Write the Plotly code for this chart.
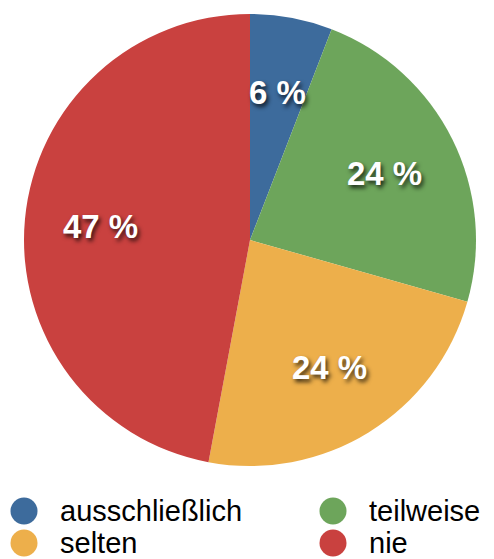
import math
import plotly.graph_objects as go

# ---- data ----
labels = ["ausschließlich", "teilweise", "selten", "nie"]
counts = [1, 4, 4, 8]
colors = ["#3D6B9C", "#6DA55B", "#EDAF4B", "#C9413F"]

# the page body has an 8px margin; work in screenshot pixels and shift
OFF = 8
W, H = 494 - OFF, 559 - OFF
# pie geometry (screenshot pixels)
CX, CY, R = 250 - OFF, 240 - OFF, 226

fig = go.Figure()
fig.add_trace(go.Pie(
    labels=labels,
    values=counts,
    sort=False,
    direction="clockwise",
    rotation=0,
    marker=dict(colors=colors, line=dict(width=0)),
    textinfo="none",
    hoverinfo="label+percent",
    showlegend=False,
    domain=dict(x=[(CX - R) / W, (CX + R) / W],
                y=[1 - (CY + R) / H, 1 - (CY - R) / H]),
))

annotations = []
total = sum(counts)
cum = 0
for lab, v in zip(labels, counts):
    mid = (cum + v / 2) / total * 2 * math.pi
    cum += v
    rr = 0.665 * R
    px = CX + rr * math.sin(mid)
    py = CY - rr * math.cos(mid)
    pct = round(v / total * 100)
    annotations.append(dict(
        x=px / W, y=1 - py / H, xref="paper", yref="paper",
        text=f"{pct} %", showarrow=False,
        xanchor="center", yanchor="middle",
        font=dict(family="Liberation Sans, Arial, sans-serif", size=33,
                  color="white", weight="bold",
                  shadow="2px 3px 4px rgba(0,0,0,0.75)"),
    ))

# manual legend (circle markers)
shapes = []
leg_cols = [24 - OFF, 333 - OFF]
leg_rows = [511 - OFF, 543 - OFF]
for i, (lab, col) in enumerate(zip(labels, colors)):
    lx = leg_cols[i % 2]
    ly = leg_rows[i // 2]
    shapes.append(dict(
        type="circle", xref="paper", yref="paper",
        xsizemode="pixel", ysizemode="pixel",
        xanchor=lx / W, yanchor=1 - ly / H,
        x0=-13.5, x1=13.5, y0=-13.5, y1=13.5,
        fillcolor=col, line=dict(width=0),
    ))
    annotations.append(dict(
        x=(lx + 35) / W, y=1 - ly / H, xref="paper", yref="paper",
        text=lab, showarrow=False, xanchor="left", yanchor="middle",
        borderpad=0,
        font=dict(family="Liberation Sans, Arial, sans-serif", size=29,
                  color="black"),
    ))

fig.update_layout(
    width=W, height=H,
    margin=dict(l=0, r=0, t=0, b=0),
    paper_bgcolor="white", plot_bgcolor="white",
    annotations=annotations, shapes=shapes,
    showlegend=False,
)

fig.write_html("out.html")
